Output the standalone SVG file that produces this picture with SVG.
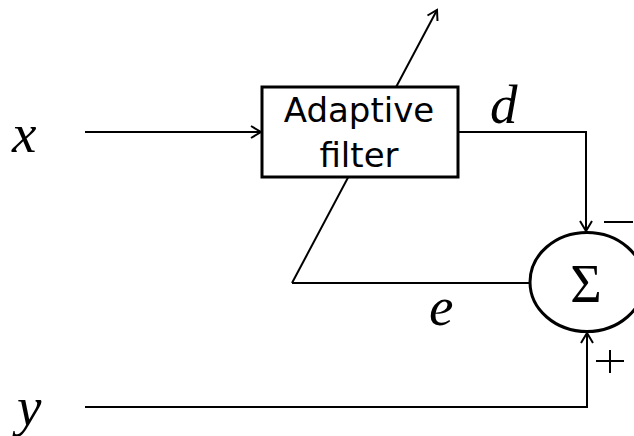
<svg xmlns="http://www.w3.org/2000/svg" width="634" height="436" viewBox="0 0 634 436">
<defs>
<style>
.ln{fill:none;stroke:#000;stroke-width:2}
.ah{fill:none;stroke:#000;stroke-width:2;stroke-linejoin:miter}
.var{font-family:"Liberation Serif",serif;font-style:italic;font-size:55px;fill:#000}
.lbl{font-family:"DejaVu Sans",sans-serif;font-size:34px;fill:#000;text-anchor:middle}
</style>
</defs>
<g id="connectors">
<line class="ln" x1="292" y1="283" x2="437" y2="10"/>
<path class="ah" d="M427.5,15.5 L437,10 L437.5,21"/>
<line class="ln" x1="85" y1="132" x2="261" y2="132"/>
<path class="ah" d="M251,126 L261,132 L251,138"/>
<polyline class="ln" points="458,132 586,132 586,231"/>
<path class="ah" d="M580,221 L586,231 L592,221"/>
<polyline class="ln" points="292,283 530,283"/>
<polyline class="ln" points="85,407 587,407 587,333"/>
<path class="ah" d="M581,343 L587,333 L593,343"/>
</g>
<g id="filter">
<rect x="262" y="87" width="196" height="90" fill="#fff" stroke="#000" stroke-width="3"/>
<text class="lbl" x="359" y="122">Adaptive</text>
<text class="lbl" x="359" y="167">filter</text>
</g>
<g id="sum">
<ellipse cx="587" cy="282" rx="57" ry="49.5" fill="#fff" stroke="#000" stroke-width="3"/>
<text x="586" y="302" font-family="Liberation Serif,serif" font-size="54" text-anchor="middle">Σ</text>
<line class="ln" x1="604" y1="222" x2="633" y2="222"/>
<line class="ln" x1="596" y1="361" x2="624" y2="361"/>
<line class="ln" x1="610" y1="350" x2="610" y2="373"/>
</g>
<g id="labels">
<text class="var" x="12" y="152">x</text>
<text class="var" x="17" y="425">y</text>
<text class="var" x="490" y="123">d</text>
<text class="var" x="429" y="325">e</text>
</g>
</svg>
